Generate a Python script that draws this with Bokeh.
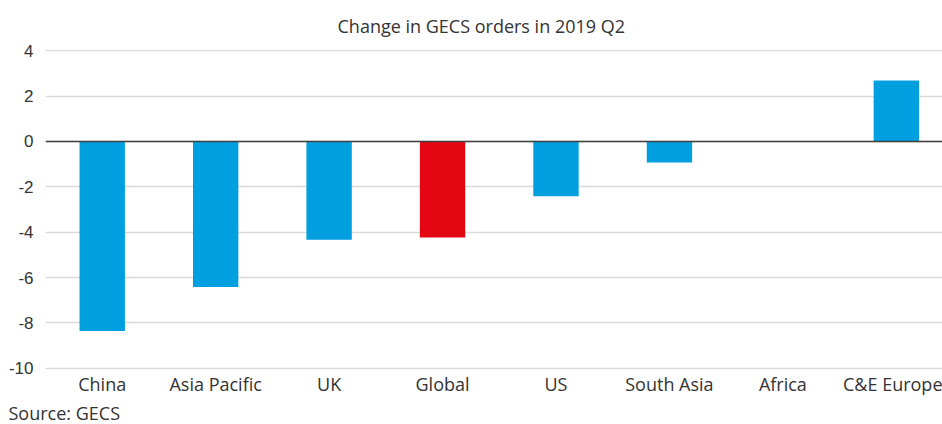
from bokeh.plotting import figure
from bokeh.models import Range1d, FixedTicker, Title, Span, ColumnDataSource
from bokeh.embed import file_html
from bokeh.resources import INLINE

categories = ["China", "Asia Pacific", "UK", "Global", "US", "South Asia", "Africa", "C&E Europe"]
values = [-8.35, -6.42, -4.33, -4.23, -2.42, -0.93, 0.0, 2.68]
colors = ["#009FE0", "#009FE0", "#009FE0", "#E30613", "#009FE0", "#009FE0", "#009FE0", "#009FE0"]
y_ticks = [-10, -8, -6, -4, -2, 0, 2, 4]
y_tick_labels = ["-10", "-8", "-6", "-4", "-2", "0", "2", "4"]

xs = list(range(len(categories)))
src = ColumnDataSource(dict(x=xs, top=values, color=colors))

p = figure(width=942, height=424, output_backend="svg", toolbar_location=None,
           x_range=Range1d(-0.5, 7.407), y_range=Range1d(-10.05, 4.05),
           min_border_left=45, min_border_right=0, min_border_top=49, min_border_bottom=55)
p.outline_line_color = None

p.vbar(x="x", top="top", bottom=0, width=0.4, fill_color="color", line_color=None, source=src)

zero = Span(location=0, dimension="width", line_color="#404040", line_width=1.5)
p.add_layout(zero)

p.xgrid.visible = False
p.ygrid.ticker = FixedTicker(ticks=y_ticks)
p.ygrid.grid_line_color = "#d9d9d9"
p.ygrid.grid_line_width = 1.5

p.yaxis.ticker = FixedTicker(ticks=y_ticks)
p.yaxis.major_label_overrides = {t: s for t, s in zip(y_ticks, y_tick_labels)}
p.yaxis.axis_line_color = None
p.yaxis.major_tick_line_color = None
p.yaxis.minor_tick_line_color = None
p.yaxis.major_tick_in = 0
p.yaxis.major_tick_out = 0
p.yaxis.major_label_text_font = "Liberation Sans"
p.yaxis.major_label_text_font_size = "17px"
p.yaxis.major_label_text_color = "#333333"
p.yaxis.major_label_standoff = 12

p.xaxis.ticker = FixedTicker(ticks=xs)
p.xaxis.major_label_overrides = {i: c for i, c in zip(xs, categories)}
p.xaxis.axis_line_color = None
p.xaxis.major_tick_line_color = None
p.xaxis.minor_tick_line_color = None
p.xaxis.major_tick_in = 0
p.xaxis.major_tick_out = 0
p.xaxis.major_label_text_font = "Open Sans"
p.xaxis.major_label_text_font_size = "18px"
p.xaxis.major_label_text_color = "#333333"
p.xaxis.major_label_standoff = 2

p.title.text = "Change in GECS orders in 2019 Q2"
p.title.align = "left"
p.title.offset = 292
p.title.text_font = "Open Sans"
p.title.text_font_style = "normal"
p.title.text_font_size = "18px"
p.title.text_color = "#333333"
p.title.standoff = 23

src_title = Title(text="Source: GECS", align="left", offset=-37, text_font="Open Sans",
                  text_font_size="18px", text_font_style="normal", text_color="#333333",
                  standoff=0)
p.add_layout(src_title, "below")

open("out.html", "w").write(file_html(p, INLINE))
